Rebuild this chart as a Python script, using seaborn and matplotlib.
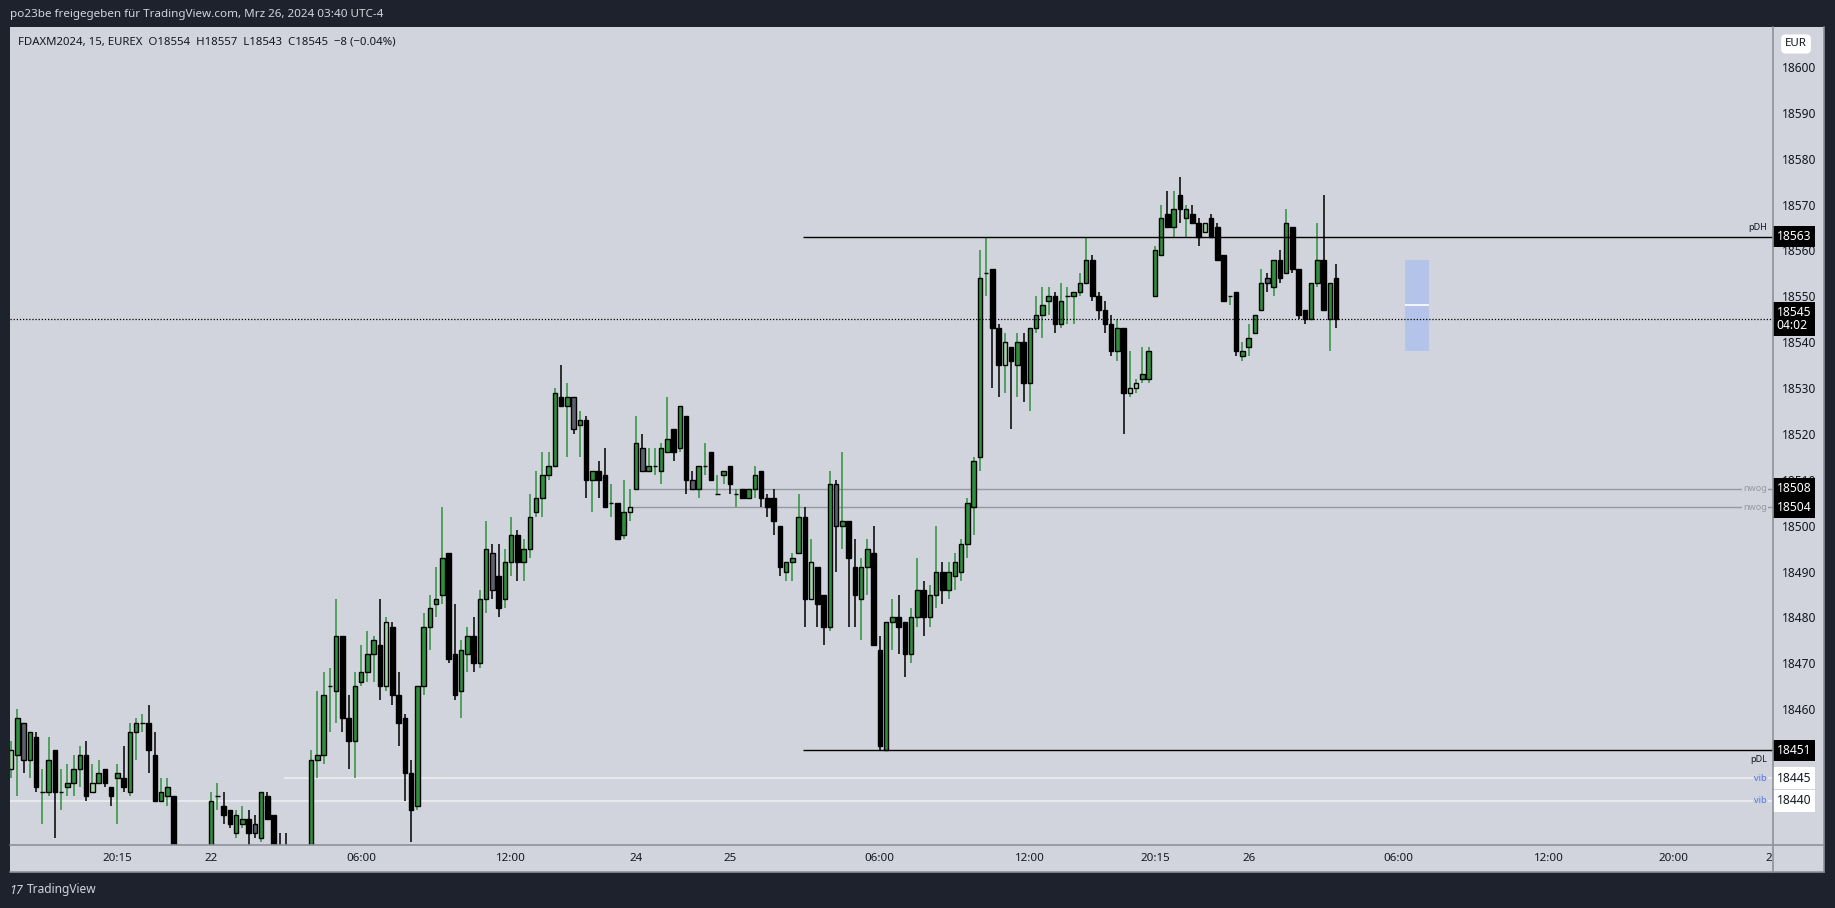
import numpy as np
import pandas as pd
import matplotlib
matplotlib.use("Agg")
import matplotlib.pyplot as plt
import matplotlib.transforms as mtransforms
from matplotlib.patches import Rectangle
from matplotlib.lines import Line2D
import seaborn as sns

# FDAXM2024, 15 min bars (index 0 = first visible bar)
opens = [
    18447, 18450, 18457, 18449, 18454, 18442, 18442, 18451, 18442, 18443,
    18444, 18447, 18450, 18442, 18444, 18447, 18443, 18445, 18445, 18442,
    18455, 18457, 18457, 18450, 18440, 18441, 18441, 18424, 18420, 18424,
    18426, 18421, 18426, 18441, 18439, 18438, 18433, 18435, 18436, 18435,
    18432, 18441, 18437, 18426, 18421, 18418, 18422, 18425, 18424, 18449,
    18450, 18465, 18464, 18476, 18458, 18453, 18466, 18468, 18472, 18474,
    18465, 18478, 18463, 18458, 18446, 18439, 18465, 18478, 18483, 18485,
    18494, 18472, 18464, 18472, 18476, 18470, 18484, 18494, 18489, 18484,
    18492, 18498, 18492, 18495, 18503, 18506, 18511, 18513, 18528, 18526,
    18528, 18522, 18523, 18510, 18512, 18511, 18505, 18505, 18498, 18503,
    18508, 18517, 18512, 18513, 18512, 18516, 18521, 18517, 18524, 18510,
    18508, 18513, 18516, 18507, 18511, 18513, 18507, 18508, 18506, 18508,
    18512, 18506, 18506, 18500, 18490, 18492, 18494, 18502, 18484, 18491,
    18485, 18478, 18509, 18500, 18501, 18491, 18484, 18491, 18494, 18473,
    18451, 18479, 18480, 18479, 18472, 18480, 18486, 18480, 18485, 18490,
    18486, 18489, 18490, 18496, 18504, 18515, 18555, 18556, 18543, 18535,
    18539, 18535, 18540, 18531, 18543, 18546, 18549, 18550, 18544, 18550,
    18550, 18551, 18553, 18558, 18550, 18547, 18544, 18538, 18543, 18529,
    18530, 18532, 18532, 18550, 18559, 18568, 18565, 18572, 18567, 18568,
    18566, 18564, 18567, 18565, 18559, 18550, 18551, 18537, 18539, 18542,
    18547, 18554, 18552, 18558, 18555, 18565, 18556, 18547, 18545, 18553,
    18558, 18545, 18554,
]
highs = [
    18453, 18460, 18457, 18455, 18455, 18447, 18454, 18451, 18447, 18448,
    18450, 18452, 18453, 18448, 18449, 18447, 18443, 18448, 18452, 18457,
    18458, 18459, 18461, 18455, 18445, 18445, 18441, 18427, 18426, 18428,
    18428, 18429, 18442, 18444, 18442, 18438, 18438, 18439, 18438, 18437,
    18442, 18442, 18437, 18433, 18433, 18425, 18428, 18428, 18451, 18464,
    18468, 18469, 18484, 18476, 18463, 18468, 18474, 18477, 18476, 18484,
    18480, 18479, 18468, 18459, 18449, 18465, 18481, 18485, 18491, 18504,
    18494, 18483, 18475, 18478, 18480, 18486, 18501, 18496, 18496, 18495,
    18502, 18499, 18497, 18507, 18512, 18516, 18516, 18530, 18535, 18531,
    18528, 18525, 18524, 18512, 18514, 18517, 18509, 18505, 18510, 18508,
    18524, 18520, 18517, 18517, 18518, 18528, 18521, 18526, 18524, 18512,
    18513, 18518, 18516, 18511, 18512, 18513, 18508, 18508, 18508, 18513,
    18512, 18507, 18508, 18500, 18492, 18494, 18507, 18504, 18497, 18491,
    18485, 18512, 18510, 18516, 18501, 18497, 18493, 18497, 18500, 18476,
    18479, 18484, 18485, 18479, 18482, 18493, 18488, 18487, 18500, 18492,
    18492, 18494, 18497, 18506, 18515, 18560, 18563, 18556, 18544, 18542,
    18539, 18542, 18542, 18543, 18550, 18552, 18552, 18551, 18553, 18552,
    18551, 18555, 18563, 18559, 18551, 18549, 18546, 18545, 18543, 18538,
    18532, 18539, 18539, 18561, 18570, 18573, 18573, 18576, 18570, 18570,
    18567, 18566, 18568, 18566, 18559, 18550, 18551, 18540, 18544, 18546,
    18556, 18555, 18558, 18560, 18569, 18565, 18556, 18547, 18553, 18566,
    18572, 18553, 18557,
]
lows = [
    18445, 18441, 18446, 18445, 18442, 18435, 18441, 18432, 18438, 18441,
    18441, 18443, 18440, 18442, 18444, 18443, 18439, 18435, 18442, 18441,
    18449, 18455, 18446, 18440, 18440, 18439, 18420, 18418, 18416, 18421,
    18419, 18420, 18424, 18438, 18435, 18434, 18432, 18434, 18430, 18432,
    18431, 18436, 18422, 18418, 18415, 18414, 18419, 18420, 18422, 18445,
    18448, 18455, 18457, 18455, 18447, 18445, 18465, 18466, 18466, 18462,
    18464, 18461, 18452, 18440, 18431, 18438, 18463, 18473, 18480, 18483,
    18470, 18462, 18458, 18468, 18468, 18469, 18481, 18484, 18480, 18482,
    18489, 18488, 18488, 18493, 18502, 18502, 18510, 18513, 18526, 18515,
    18520, 18515, 18506, 18503, 18506, 18504, 18502, 18497, 18497, 18501,
    18508, 18512, 18512, 18511, 18509, 18516, 18514, 18516, 18507, 18508,
    18506, 18511, 18510, 18507, 18509, 18507, 18504, 18506, 18506, 18506,
    18504, 18502, 18498, 18489, 18488, 18488, 18494, 18478, 18484, 18478,
    18474, 18477, 18490, 18495, 18478, 18478, 18475, 18485, 18474, 18451,
    18451, 18473, 18472, 18467, 18470, 18478, 18476, 18478, 18482, 18483,
    18484, 18486, 18488, 18493, 18498, 18512, 18550, 18530, 18528, 18529,
    18521, 18528, 18527, 18525, 18542, 18541, 18546, 18542, 18543, 18544,
    18544, 18550, 18553, 18549, 18545, 18542, 18537, 18536, 18520, 18528,
    18529, 18531, 18531, 18550, 18559, 18565, 18563, 18566, 18563, 18566,
    18561, 18564, 18563, 18558, 18549, 18548, 18537, 18536, 18537, 18542,
    18547, 18551, 18550, 18553, 18555, 18555, 18545, 18544, 18545, 18552,
    18547, 18538, 18543,
]
closes = [
    18451, 18458, 18449, 18455, 18443, 18442, 18449, 18442, 18442, 18444,
    18447, 18450, 18441, 18444, 18446, 18444, 18441, 18446, 18443, 18455,
    18457, 18457, 18451, 18440, 18442, 18443, 18424, 18420, 18424, 18426,
    18421, 18426, 18440, 18441, 18437, 18435, 18437, 18436, 18433, 18433,
    18442, 18436, 18425, 18420, 18418, 18422, 18425, 18423, 18449, 18450,
    18463, 18465, 18476, 18458, 18453, 18465, 18468, 18472, 18475, 18465,
    18479, 18463, 18457, 18446, 18438, 18465, 18478, 18482, 18484, 18493,
    18471, 18463, 18473, 18476, 18470, 18484, 18495, 18486, 18482, 18492,
    18498, 18492, 18495, 18502, 18506, 18511, 18513, 18529, 18526, 18528,
    18521, 18523, 18510, 18512, 18510, 18504, 18505, 18497, 18503, 18504,
    18518, 18512, 18513, 18513, 18517, 18519, 18516, 18526, 18510, 18508,
    18513, 18513, 18510, 18507, 18512, 18509, 18507, 18506, 18508, 18511,
    18506, 18504, 18501, 18491, 18492, 18493, 18502, 18484, 18492, 18483,
    18478, 18509, 18500, 18501, 18493, 18485, 18491, 18495, 18474, 18452,
    18479, 18480, 18478, 18472, 18480, 18486, 18480, 18485, 18490, 18486,
    18490, 18492, 18496, 18505, 18514, 18554, 18555, 18543, 18535, 18540,
    18536, 18540, 18531, 18543, 18546, 18548, 18550, 18544, 18549, 18550,
    18551, 18553, 18558, 18550, 18547, 18544, 18538, 18543, 18529, 18530,
    18531, 18533, 18538, 18560, 18567, 18565, 18569, 18569, 18569, 18566,
    18563, 18566, 18563, 18558, 18549, 18550, 18538, 18538, 18541, 18546,
    18553, 18553, 18558, 18554, 18566, 18556, 18546, 18545, 18553, 18558,
    18547, 18553, 18545,
]
grey_bars = [2, 39, 77, 90, 101, 109, 132, 201]
light_bars = [0, 13, 60, 99, 128, 159, 179, 180, 191]

time_ticks = [17, 32, 56, 80, 100, 115, 139, 163, 183, 198, 222, 246, 266, 281.3]
time_labels = ["20:15", "22", "06:00", "12:00", "24", "25", "06:00", "12:00",
               "20:15", "26", "06:00", "12:00", "20:00", "2"]
price_ticks = list(range(18460, 18601, 10))

last_price = 18545
countdown = "04:02"
pdh, pdl = 18563, 18451
level_start = 126.7
nwog_levels = [18508, 18504]
nwog_start = [100.3, 99.3]
vib_levels = [18445, 18440]
vib_start = [43.7, -1]
zone_x = (223.0, 226.9)
zone_y = (18538, 18558, 18548)

BG = "#d1d4dc"
FRAME = "#1e222d"
GREEN = "#2f8f3d"
GREY = "#5d606b"
LIGHT = "#a5d6a7"
SEP = "#8e919b"
TXT = "#131722"

sns.set_theme(style="white", rc={"axes.facecolor": BG, "figure.facecolor": FRAME})
plt.rcParams["font.family"] = ["Noto Sans", "DejaVu Sans"]

W, H = 1835, 908
fig = plt.figure(figsize=(W / 100, H / 100), dpi=100)


def fx(px):
    return px / W


def fy(py):
    return 1 - py / H


# chart panel (plot + price scale + time scale), kept behind the axes
fig.patches.append(Rectangle((fx(10), fy(872)), (1824 - 10) / W, (872 - 27) / H,
                             transform=fig.transFigure, fc=BG, ec="none", zorder=-5))

ax = fig.add_axes([fx(10), fy(845), (1773 - 10) / W, (845 - 27) / H])
ax.set_facecolor(BG)
ax.set_zorder(1)
for s in ax.spines.values():
    s.set_visible(False)

df = pd.DataFrame({"open": opens, "high": highs, "low": lows, "close": closes})
df["x"] = np.arange(len(df))
up = df["close"] >= df["open"]
body_col = np.where(up, GREEN, "black").astype(object)
body_col[grey_bars] = GREY
body_col[light_bars] = LIGHT
wick_col = np.where(up, GREEN, "black")

ax.vlines(df["x"], df["low"], df["high"], colors=wick_col, lw=1.1, zorder=2)
ax.bar(df["x"], (df["close"] - df["open"]).abs(),
       bottom=df[["open", "close"]].min(axis=1), width=0.72,
       color=body_col, edgecolor="black", linewidth=1.0, zorder=3)

xmin, xmax = -0.176, 281.9
ax.set_xlim(xmin, xmax)
ax.set_ylim(18430.4, 18608.7)

# levels
ax.hlines([pdh, pdl], level_start, xmax, color="black", lw=1.0, zorder=4)
for lv, st in zip(nwog_levels, nwog_start):
    ax.hlines(lv, st, xmax, color="#9598a1", lw=1.0, zorder=1)
for lv, st in zip(vib_levels, vib_start):
    ax.hlines(lv, st, xmax, color="#eceef3", lw=1.2, zorder=1)
ax.axhline(last_price, color="black", lw=0.9, ls=(0, (1, 1.5)), zorder=4)

ax.add_patch(Rectangle((zone_x[0], zone_y[0]), zone_x[1] - zone_x[0], zone_y[1] - zone_y[0],
                       fc="#b3c3ea", ec="none", zorder=1))
ax.hlines(zone_y[2], zone_x[0], zone_x[1], color="white", lw=1.2, zorder=2)

trans = mtransforms.blended_transform_factory(ax.transAxes, ax.transData)
lab_x = 0.9966
ax.annotate("pDH", (lab_x, pdh), xycoords=trans, xytext=(0, 3), textcoords="offset points",
            ha="right", va="bottom", fontsize=6.5, color=TXT)
ax.annotate("pDL", (lab_x, pdl), xycoords=trans, xytext=(0, -3), textcoords="offset points",
            ha="right", va="top", fontsize=6.5, color=TXT)
for lv in nwog_levels:
    ax.text(lab_x, lv, "nwog", transform=trans, ha="right", va="center", fontsize=6.5,
            color="#9598a1", bbox=dict(boxstyle="square,pad=0.15", fc=BG, ec="none"), zorder=5)
for lv in vib_levels:
    ax.text(lab_x, lv, "vib", transform=trans, ha="right", va="center", fontsize=6.5,
            color="#4f74f0", bbox=dict(boxstyle="square,pad=0.15", fc=BG, ec="none"), zorder=5)

# price scale
ax.yaxis.tick_right()
ax.set_yticks(price_ticks)
ax.set_yticklabels([str(p) for p in price_ticks])
ax.tick_params(axis="y", length=0, pad=6.5, labelsize=8.6, labelcolor=TXT)

# time scale
ax.set_xticks(time_ticks)
ax.set_xticklabels(time_labels)
ax.tick_params(axis="x", length=0, pad=6, labelsize=8.3, labelcolor=TXT)
ax.get_xticklabels()[5].set_fontweight("bold")
ax.grid(False)


def price_box(value, text, dark=True):
    fc = "black" if dark else "white"
    tc = "white" if dark else TXT
    ax.annotate(text, (1.0, value), xycoords=trans, xytext=(2.6, 0), textcoords="offset points",
                ha="left", va="center", fontsize=8.7, color=tc,
                fontweight="bold" if dark else "normal", linespacing=1.0,
                bbox=dict(boxstyle="square,pad=0.34", fc=fc, ec="none"), zorder=10,
                annotation_clip=False)


price_box(pdh, str(pdh))
price_box(last_price, f"{last_price}\n{countdown}")
for lv in nwog_levels:
    price_box(lv, str(lv))
price_box(pdl, str(pdl))
for lv in vib_levels:
    price_box(lv, str(lv), dark=False)

fig.text(fx(1796), fy(44), "EUR", ha="center", va="center", fontsize=8.3, color=TXT,
         bbox=dict(boxstyle="round,pad=0.35,rounding_size=0.4", fc="white", ec="none"))

# separators
for (x0, y0, x1, y1) in [(1773, 27, 1773, 872), (10, 845, 1824, 845),
                         (10, 872, 1824, 872), (1824, 27, 1824, 872)]:
    fig.add_artist(Line2D([fx(x0), fx(x1)], [fy(y0), fy(y1)], color=SEP, lw=1.2,
                          transform=fig.transFigure, zorder=2))

# header / footer
fig.text(fx(10), fy(14), "po23be freigegeben für TradingView.com, Mrz 26, 2024 03:40 UTC-4",
         color="#d1d4dc", fontsize=8.4, va="center", ha="left")
fig.text(fx(18), fy(42.5), "FDAXM2024, 15, EUREX  O18554  H18557  L18543  C18545  −8 (−0.04%)",
         color=TXT, fontsize=8.2, va="center", ha="left", zorder=3)
fig.text(fx(9), fy(890), "17", color="#d1d4dc", fontsize=9, fontweight="bold", va="center",
         ha="left", style="italic")
fig.text(fx(27), fy(890), "TradingView", color="#d1d4dc", fontsize=8.6, va="center", ha="left")

fig.savefig("out.png", dpi=100, facecolor=FRAME)
